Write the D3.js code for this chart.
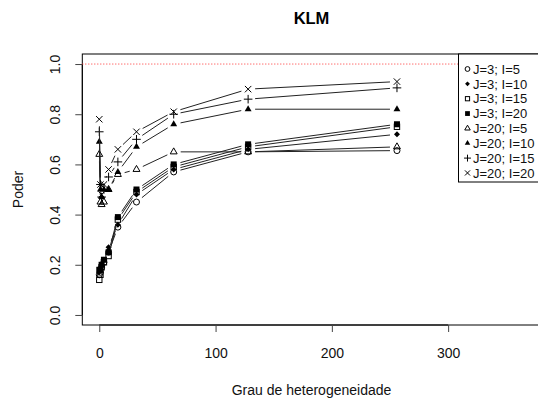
<!DOCTYPE html>
<html>
<head>
<meta charset="utf-8">
<script src="https://cdn.jsdelivr.net/npm/d3@7"></script>
<style>
  html, body { margin: 0; padding: 0; background: #fff; }
  svg { display: block; font-family: "Liberation Sans", Arial, sans-serif; }
</style>
</head>
<body>
<svg id="chart" width="538" height="401"></svg>
<script>
// Heterogeneity degrees on the x axis
const heterogeneity = [0, 1, 2, 4, 8, 16, 32, 64, 128, 256];

// Power for each (J, I) design
const j3i5   = [0.16, 0.17, 0.19, 0.21, 0.25, 0.35, 0.45, 0.57, 0.65, 0.655];
const j3i10  = [0.17, 0.18, 0.20, 0.22, 0.27, 0.36, 0.48, 0.58, 0.66, 0.72];
const j3i15  = [0.14, 0.16, 0.19, 0.21, 0.235, 0.38, 0.49, 0.59, 0.67, 0.75];
const j3i20  = [0.18, 0.18, 0.20, 0.22, 0.25, 0.39, 0.50, 0.60, 0.68, 0.76];
const j20i5  = [0.64, 0.45, 0.44, 0.45, 0.50, 0.56, 0.58, 0.65, 0.65, 0.67];
const j20i10 = [0.69, 0.50, 0.47, 0.50, 0.50, 0.57, 0.67, 0.76, 0.82, 0.82];
const j20i15 = [0.73, 0.52, 0.47, 0.50, 0.55, 0.61, 0.70, 0.80, 0.86, 0.905];
const j20i20 = [0.78, 0.52, 0.48, 0.52, 0.58, 0.66, 0.73, 0.81, 0.90, 0.93];

const seriesLabels = ["J=3; I=5", "J=3; I=10", "J=3; I=15", "J=3; I=20",
                      "J=20; I=5", "J=20; I=10", "J=20; I=15", "J=20; I=20"];
const seriesValues = [j3i5, j3i10, j3i15, j3i20, j20i5, j20i10, j20i15, j20i20];
const seriesSymbols = ["circle", "diamondFilled", "square", "squareFilled",
                       "triangle", "triangleFilled", "plus", "cross"];

const xTicks = [0, 100, 200, 300];
const yTicks = [0, 0.2, 0.4, 0.6, 0.8, 1.0];
const referenceLevel = 1.0;

const svg = d3.select("#chart");
const FONT = "Liberation Sans, Arial, sans-serif";
const LABEL_SIZE = 14;

// Plot region (R style: limits padded by 4%)
const plot = { left: 82.3, right: 540.7, top: 54, bottom: 325 };
const xlim = [0, 365], ylim = [0, 1];
const pad = (lim) => { const d = (lim[1] - lim[0]) * 0.04; return [lim[0] - d, lim[1] + d]; };

const x = d3.scaleLinear().domain(pad(xlim)).range([plot.left, plot.right]);
const y = d3.scaleLinear().domain(pad(ylim)).range([plot.bottom, plot.top]);

// Title
svg.append("text")
  .attr("x", (plot.left + plot.right) / 2).attr("y", 24)
  .attr("text-anchor", "middle")
  .attr("font-size", 16.5).attr("font-weight", "bold")
  .text("KLM");

// Box around plot region
svg.append("rect")
  .attr("x", plot.left).attr("y", plot.top)
  .attr("width", plot.right - plot.left).attr("height", plot.bottom - plot.top)
  .attr("fill", "none").attr("stroke", "#000").attr("stroke-width", 1);

// X axis
const xAxis = d3.axisBottom(x).tickValues(xTicks).tickSize(7).tickPadding(16)
  .tickFormat(d3.format("d"));
const gx = svg.append("g").attr("transform", `translate(0,${plot.bottom})`).call(xAxis);
gx.select(".domain").attr("d", `M${x(xTicks[0])},0H${x(xTicks[xTicks.length - 1])}`)
  .attr("stroke", "#000");
gx.selectAll(".tick line").attr("stroke", "#444");
gx.selectAll("text").attr("font-size", LABEL_SIZE).attr("fill", "#111")
  .attr("font-family", FONT);

// Y axis with rotated labels
const yAxis = d3.axisLeft(y).tickValues(yTicks).tickSize(7).tickPadding(0)
  .tickFormat(d3.format(".1f"));
const gy = svg.append("g").attr("transform", `translate(${plot.left},0)`).call(yAxis);
gy.select(".domain").attr("d", `M0,${y(yTicks[0])}V${y(yTicks[yTicks.length - 1])}`)
  .attr("stroke", "#000");
gy.selectAll(".tick line").attr("stroke", "#444");
gy.selectAll(".tick text")
  .attr("x", null).attr("dy", null)
  .attr("transform", "translate(-27,0) rotate(-90)")
  .attr("text-anchor", "middle").attr("dominant-baseline", "central")
  .attr("font-size", LABEL_SIZE).attr("fill", "#111")
  .attr("font-family", FONT);

// Axis titles
svg.append("text")
  .attr("x", (plot.left + plot.right) / 2).attr("y", 395)
  .attr("text-anchor", "middle").attr("font-size", LABEL_SIZE).attr("fill", "#111")
  .text("Grau de heterogeneidade");
svg.append("text")
  .attr("transform", `translate(23,${(plot.top + plot.bottom) / 2 + 0}) rotate(-90)`)
  .attr("text-anchor", "middle").attr("font-size", LABEL_SIZE).attr("fill", "#111")
  .text("Poder");

// Dotted reference line at power = 1
svg.append("line")
  .attr("x1", plot.left).attr("x2", plot.right)
  .attr("y1", y(referenceLevel)).attr("y2", y(referenceLevel))
  .attr("stroke", "#ff3030").attr("stroke-width", 1)
  .attr("stroke-dasharray", "1,2");

// Marker shapes
function drawSymbol(g, kind, cx, cy, scale = 1) {
  const s = 3.0 * scale;
  switch (kind) {
    case "circle":
      g.append("circle").attr("cx", cx).attr("cy", cy).attr("r", s)
        .attr("fill", "none").attr("stroke", "#000");
      break;
    case "diamondFilled":
      g.append("path").attr("d", `M${cx},${cy - s}L${cx + s},${cy}L${cx},${cy + s}L${cx - s},${cy}Z`)
        .attr("fill", "#000");
      break;
    case "square":
      g.append("rect").attr("x", cx - s + 0.3).attr("y", cy - s + 0.3)
        .attr("width", 2 * s - 0.6).attr("height", 2 * s - 0.6)
        .attr("fill", "none").attr("stroke", "#000");
      break;
    case "squareFilled":
      g.append("rect").attr("x", cx - s).attr("y", cy - s)
        .attr("width", 2 * s).attr("height", 2 * s).attr("fill", "#000");
      break;
    case "triangle": {
      const r = 4.0 * scale;
      g.append("path")
        .attr("d", `M${cx},${cy - r}L${cx + r * 0.866},${cy + r / 2}L${cx - r * 0.866},${cy + r / 2}Z`)
        .attr("fill", "none").attr("stroke", "#000");
      break;
    }
    case "triangleFilled": {
      const r = 4.0 * scale;
      g.append("path")
        .attr("d", `M${cx},${cy - r}L${cx + r * 0.866},${cy + r / 2}L${cx - r * 0.866},${cy + r / 2}Z`)
        .attr("fill", "#000");
      break;
    }
    case "plus": {
      const r = 4.3 * scale;
      g.append("path").attr("d", `M${cx - r},${cy}H${cx + r}M${cx},${cy - r}V${cy + r}`)
        .attr("stroke", "#000").attr("fill", "none");
      break;
    }
    case "cross": {
      const r = 3.2 * scale;
      g.append("path")
        .attr("d", `M${cx - r},${cy - r}L${cx + r},${cy + r}M${cx - r},${cy + r}L${cx + r},${cy - r}`)
        .attr("stroke", "#000").attr("fill", "none");
      break;
    }
  }
}

// Lines with gaps around points (like type = "b")
const gap = 7;
svg.append("defs").append("clipPath").attr("id", "plotClip")
  .append("rect").attr("x", plot.left).attr("y", plot.top)
  .attr("width", plot.right - plot.left).attr("height", plot.bottom - plot.top);

const marks = svg.append("g").attr("clip-path", "url(#plotClip)");

seriesValues.forEach((vals, si) => {
  const pts = heterogeneity.map((h, i) => [x(h), y(vals[i])]);
  const seg = marks.append("g");
  for (let i = 0; i < pts.length - 1; i++) {
    const [x0, y0] = pts[i], [x1, y1] = pts[i + 1];
    const dx = x1 - x0, dy = y1 - y0, len = Math.hypot(dx, dy);
    if (len <= 2 * gap) continue;
    const ux = dx / len, uy = dy / len;
    seg.append("line")
      .attr("x1", x0 + ux * gap).attr("y1", y0 + uy * gap)
      .attr("x2", x1 - ux * gap).attr("y2", y1 - uy * gap)
      .attr("stroke", "#222").attr("stroke-width", 1);
  }
  const pg = marks.append("g");
  pts.forEach(([px, py]) => drawSymbol(pg, seriesSymbols[si], px, py));
});

// Legend
const legend = svg.append("g");
legend.append("rect")
  .attr("x", 458.5).attr("y", 54).attr("width", 100).attr("height", 128)
  .attr("fill", "#fff").attr("stroke", "#000");
seriesLabels.forEach((lab, i) => {
  const ly = 69 + i * 14.85;
  const lg = legend.append("g");
  drawSymbol(lg, seriesSymbols[i], 467.5, ly, 0.8);
  lg.append("text").attr("x", 473).attr("y", ly).attr("dy", "0.36em")
    .attr("font-size", 13).attr("fill", "#111").text(lab);
});
</script>
</body>
</html>
